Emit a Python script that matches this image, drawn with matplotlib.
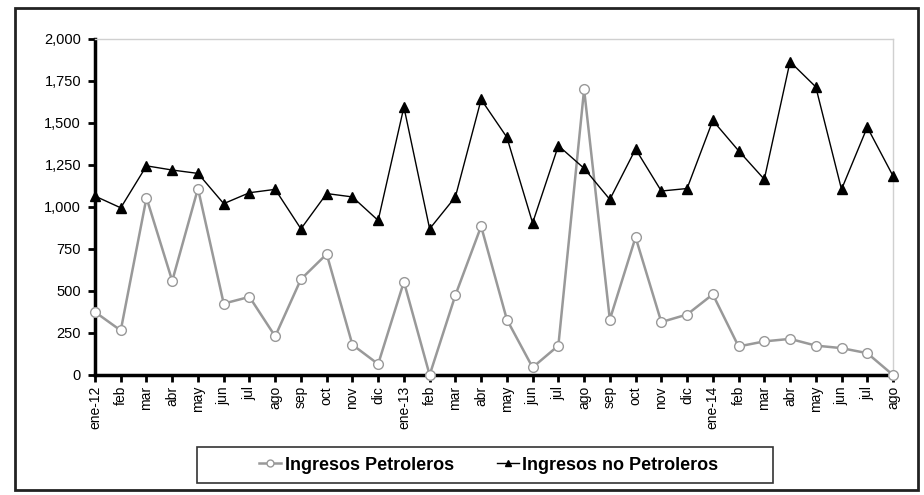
import matplotlib.pyplot as plt
from matplotlib.patches import Rectangle
from matplotlib.ticker import FuncFormatter

plt.rcParams["font.family"] = ["Liberation Sans", "DejaVu Sans"]

months = ["ene-12", "feb", "mar", "abr", "may", "jun", "jul", "ago", "sep", "oct", "nov", "dic",
          "ene-13", "feb", "mar", "abr", "may", "jun", "jul", "ago", "sep", "oct", "nov", "dic",
          "ene-14", "feb", "mar", "abr", "may", "jun", "jul", "ago"]

petroleros = [375, 265, 1055, 560, 1110, 425, 465, 230, 570, 720, 180, 65,
              555, 0, 475, 885, 330, 45, 175, 1700, 330, 820, 315, 360,
              480, 170, 200, 215, 175, 160, 130, 0]

no_petroleros = [1065, 995, 1245, 1220, 1200, 1020, 1085, 1105, 870, 1080, 1060, 920,
                 1595, 870, 1060, 1640, 1415, 905, 1365, 1230, 1045, 1345, 1095, 1110,
                 1515, 1335, 1165, 1865, 1715, 1105, 1475, 1185]

W, H = 924, 495
x = list(range(len(months)))

fig = plt.figure(figsize=(W / 100, H / 100), dpi=100)
ax = fig.add_axes([95 / W, 1 - 375 / H, (893 - 95) / W, (375 - 39) / H])

ax.plot(x, petroleros, color="#999999", linewidth=1.8, marker="o", markersize=7,
        markerfacecolor="white", markeredgecolor="#999999", markeredgewidth=1.0,
        clip_on=False, zorder=3, label="Ingresos Petroleros")
ax.plot(x, no_petroleros, color="black", linewidth=1.0, marker="^", markersize=6.5,
        markerfacecolor="black", markeredgecolor="black",
        clip_on=False, zorder=4, label="Ingresos no Petroleros")

ax.set_xlim(0, len(months) - 1)
ax.set_ylim(0, 2000)
ax.set_yticks(range(0, 2001, 250))
ax.yaxis.set_major_formatter(FuncFormatter(lambda v, p: f"{int(v):,}"))
ax.set_xticks(x)
ax.set_xticklabels(months, rotation=90, fontsize=10)
ax.tick_params(axis="y", labelsize=10.5, length=5, width=2, direction="out", pad=5)
ax.tick_params(axis="x", length=5, width=2, direction="out", pad=3)

ax.spines["left"].set_linewidth(2.5)
ax.spines["bottom"].set_linewidth(2.5)
for side in ("top", "right"):
    ax.spines[side].set_color("#d0d0d0")
    ax.spines[side].set_linewidth(1.0)

leg = fig.legend(loc="center", bbox_to_anchor=(489 / W, 1 - 465 / H), ncol=2, frameon=False,
                 handlelength=1.2, handletextpad=0.2, columnspacing=2.4,
                 prop={"weight": "bold", "size": 13})
for h in leg.legend_handles:
    h.set_markersize(5)

# legend box and outer frame
fig.patches.append(Rectangle((197 / W, 1 - 483 / H), (773 - 197) / W, (483 - 447) / H,
                             transform=fig.transFigure, fill=False, edgecolor="#333333",
                             linewidth=1.2))
fig.patches.append(Rectangle((15 / W, 1 - 490 / H), (918 - 15) / W, (490 - 8) / H,
                             transform=fig.transFigure, fill=False, edgecolor="#222222",
                             linewidth=2))

fig.savefig("out.png", dpi=100)
